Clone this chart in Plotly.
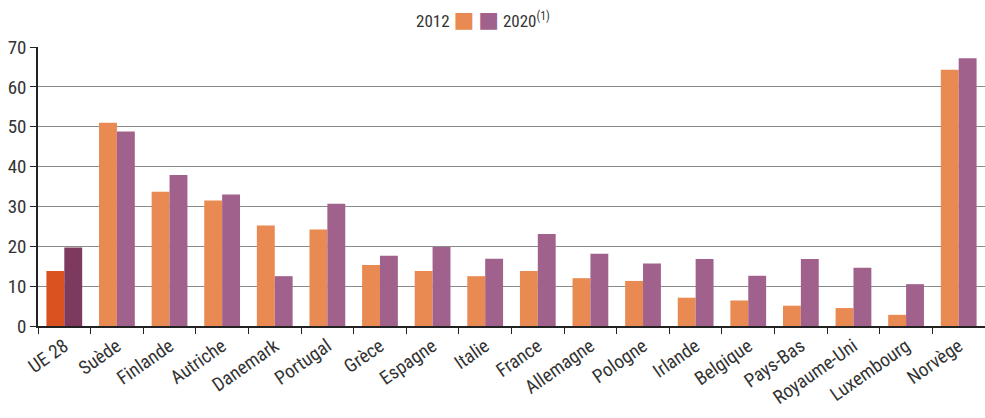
import plotly.graph_objects as go

categories = ["UE 28", "Suède", "Finlande", "Autriche", "Danemark", "Portugal", "Grèce",
              "Espagne", "Italie", "France", "Allemagne", "Pologne", "Irlande", "Belgique",
              "Pays-Bas", "Royaume-Uni", "Luxembourg", "Norvège"]
values_2012 = [13.8, 51.0, 33.7, 31.5, 25.2, 24.2, 15.3, 13.8, 12.5, 13.8, 12.0, 11.3,
               7.1, 6.4, 5.1, 4.5, 2.8, 64.3]
values_2020 = [19.7, 48.8, 37.9, 33.0, 12.5, 30.7, 17.6, 19.8, 16.9, 23.1, 18.1, 15.7,
               16.8, 12.6, 16.8, 14.6, 10.5, 67.2]
y_ticks = [0, 10, 20, 30, 40, 50, 60, 70]
legend_labels = ["2012", "2020"]

orange = "#E98A52"
purple = "#A0628C"
orange_eu = "#D9521F"
purple_eu = "#7D3A5E"

col12 = [orange_eu] + [orange] * (len(categories) - 1)
col20 = [purple_eu] + [purple] * (len(categories) - 1)

font_fam = "Liberation Sans Narrow, Roboto Condensed, Arial Narrow, Roboto, sans-serif"

fig = go.Figure()
fig.add_trace(go.Bar(x=categories, y=values_2012, name=legend_labels[0],
                     marker=dict(color=col12, line=dict(width=0)), showlegend=False))
fig.add_trace(go.Bar(x=categories, y=values_2020, name=legend_labels[1],
                     marker=dict(color=col20, line=dict(width=0)), showlegend=False))

legend_text = (f"{legend_labels[0]} <span style='color:{orange};font-size:22px;font-family:DejaVu Sans'>■</span> "
               f"<span style='color:{purple};font-size:22px;font-family:DejaVu Sans'>■</span> "
               f"{legend_labels[1]}<sup>(1)</sup>")

fig.update_layout(
    width=985, height=418,
    margin=dict(l=38, r=0, t=47, b=92),
    paper_bgcolor="white", plot_bgcolor="white",
    barmode="group", bargap=0.32, bargroupgap=0,
    font=dict(family=font_fam, size=18, color="#333333"),
    showlegend=False,
    annotations=[dict(text=legend_text, xref="paper", yref="paper", x=0.47, y=1.097,
                      xanchor="center", yanchor="middle", showarrow=False,
                      font=dict(size=17, color="#333333"))],
)
fig.update_xaxes(type="category", showline=True, linecolor="#222222", linewidth=1.5,
                 ticks="outside", tickson="boundaries", ticklen=6, tickcolor="#222222",
                 tickangle=-35, showgrid=False, tickfont=dict(size=19), automargin=False)
fig.update_yaxes(range=[0, 70], tickvals=y_ticks, showline=True, linecolor="#222222", linewidth=1.5,
                 ticks="outside", ticklen=6, tickcolor="#222222", showgrid=True,
                 gridcolor="#8a8a8a", gridwidth=1.2, zeroline=False, tickfont=dict(size=19),
                 automargin=False)

fig.write_html("out.html", config={"displayModeBar": False},
               post_script="document.body.style.margin='0';")
